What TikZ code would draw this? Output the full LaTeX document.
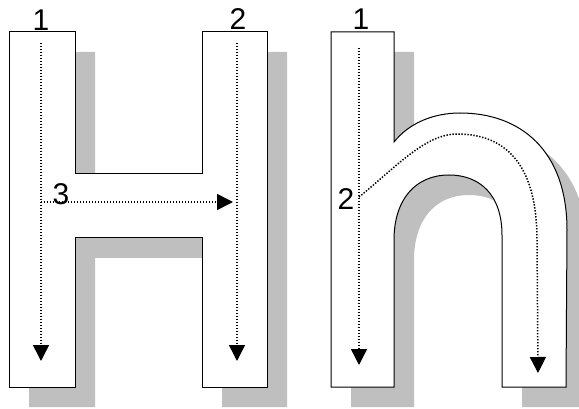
\documentclass[tikz,border=0pt]{standalone}
\usepackage{fontspec}
\setmainfont{Liberation Sans}
\usetikzlibrary{arrows.meta}
\begin{document}
\begin{tikzpicture}[x=1pt,y=-1pt]
    \tikzstyle{letter}=[fill=white, draw=black, line width=1pt, line join=miter]
    \tikzstyle{shadow}=[fill=black!25, draw=none, shift={(20,20)}]
    \tikzstyle{stroke}=[line width=1.5pt, dash pattern=on 1.4pt off 1.6pt, -{Triangle[length=16pt,width=16pt]}]
    \tikzstyle{num}=[inner sep=0pt, anchor=base, font=\fontsize{30}{36}\selectfont]
    \useasboundingbox (0,0) rectangle (579,409);
    % shadows
    \fill[shadow] (9,32) -- (75,32) -- (75,174) -- (202,174) -- (202,32) -- (267,32) -- (267,387) -- (202,387) -- (202,238) -- (75,238) -- (75,387) -- (9,387) -- cycle;
    \fill[shadow] (331,32) -- (394,32) -- (394,142) .. controls (410,122) and (435,113) .. (460,113) .. controls (520,113) and (567,150) .. (567,230) -- (566,387) -- (502,387) -- (502,235) .. controls (502,195) and (480,175) .. (449,175) .. controls (415,175) and (394,200) .. (394,240) -- (394,387) -- (331,387) -- cycle;
    % letters
    \filldraw[letter] (9,32) -- (75,32) -- (75,174) -- (202,174) -- (202,32) -- (267,32) -- (267,387) -- (202,387) -- (202,238) -- (75,238) -- (75,387) -- (9,387) -- cycle;
    \filldraw[letter] (331,32) -- (394,32) -- (394,142) .. controls (410,122) and (435,113) .. (460,113) .. controls (520,113) and (567,150) .. (567,230) -- (566,387) -- (502,387) -- (502,235) .. controls (502,195) and (480,175) .. (449,175) .. controls (415,175) and (394,200) .. (394,240) -- (394,387) -- (331,387) -- cycle;
    % strokes of H
    \coordinate (H1a) at (41,43);
    \coordinate (H1b) at (41,361);
    \coordinate (H2a) at (237,43);
    \coordinate (H2b) at (237,361);
    \coordinate (H3a) at (41,202);
    \coordinate (H3b) at (233,202);
    \draw[stroke] (H1a) -- (H1b);
    \draw[stroke] (H2a) -- (H2b);
    \draw[stroke] (H3a) -- (H3b);
    % strokes of h
    \coordinate (h1a) at (359,48);
    \coordinate (h1b) at (359,365);
    \coordinate (h2a) at (359,197);
    \coordinate (h2b) at (538,373);
    \draw[stroke] (h1a) -- (h1b);
    \draw[stroke] (h2a) .. controls (395,168) and (425,134) .. (457,134) .. controls (510,134) and (537,170) .. (537,240) -- (h2b);
    % numbers
    \node[num] (nH1) at (41,31) {1};
    \node[num] (nH2) at (238,30) {2};
    \node[num] (nH3) at (61,205) {3};
    \node[num] (nh1) at (361,30) {1};
    \node[num] (nh2) at (346,210) {2};
\end{tikzpicture}
\end{document}
